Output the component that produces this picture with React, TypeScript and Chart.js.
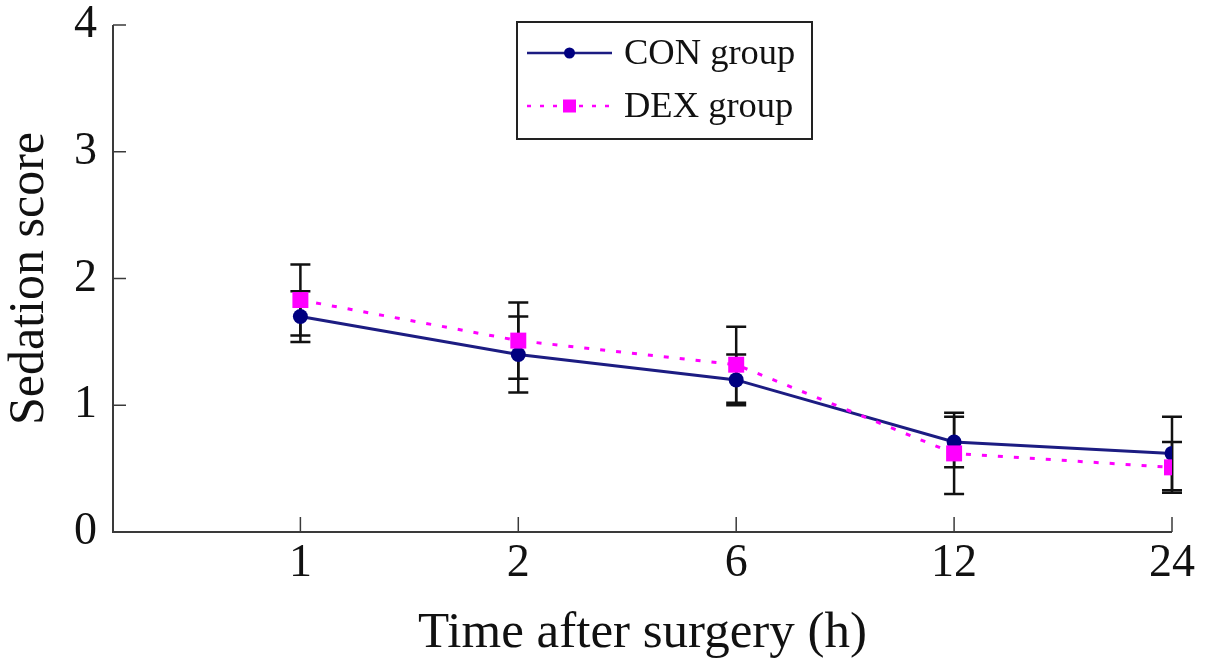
import React, { useEffect, useRef } from "react";
import { Chart, registerables } from "chart.js";

Chart.register(...registerables);

const categories = ["1", "2", "6", "12", "24"];
const conValues = [1.7, 1.4, 1.2, 0.71, 0.62];
const conErrors = [0.2, 0.3, 0.2, 0.2, 0.29];
const dexValues = [1.83, 1.51, 1.32, 0.62, 0.51];
const dexErrors = [0.28, 0.3, 0.3, 0.32, 0.2];
const yTicks = [0, 1, 2, 3, 4];
const seriesNames = ["CON group", "DEX group"];

const FONT = "'Liberation Serif', 'Times New Roman', serif";
const CON_COLOR = "#1c1c82";
const CON_POINT = "#000080";
const DEX_COLOR = "#ff00ff";
const AXIS_COLOR = "#3a3a3a";

const errorBarPlugin = {
  id: "errorBars",
  beforeDatasetsDraw(chart: any) {
    const { ctx, scales } = chart;
    const xs = scales.x;
    const ys = scales.y;
    const sets = [
      { v: conValues, e: conErrors },
      { v: dexValues, e: dexErrors },
    ];
    ctx.save();
    ctx.strokeStyle = "#111111";
    ctx.lineWidth = 2.5;
    sets.forEach((s) => {
      s.v.forEach((val, i) => {
        const x = xs.getPixelForValue(i);
        const yTop = ys.getPixelForValue(val + s.e[i]);
        const yBot = ys.getPixelForValue(val - s.e[i]);
        const half = 10;
        ctx.beginPath();
        ctx.moveTo(x, yTop);
        ctx.lineTo(x, yBot);
        ctx.moveTo(x - half, yTop);
        ctx.lineTo(x + half, yTop);
        ctx.moveTo(x - half, yBot);
        ctx.lineTo(x + half, yBot);
        ctx.stroke();
      });
    });
    ctx.restore();
  },
};

const axesPlugin = {
  id: "customAxes",
  afterDraw(chart: any) {
    const { ctx, chartArea, scales } = chart;
    const xs = scales.x;
    const ys = scales.y;
    ctx.save();
    ctx.strokeStyle = AXIS_COLOR;
    ctx.lineWidth = 2;
    ctx.beginPath();
    ctx.moveTo(chartArea.left, chartArea.top);
    ctx.lineTo(chartArea.left, chartArea.bottom);
    ctx.lineTo(chartArea.right, chartArea.bottom);
    ctx.stroke();
    ctx.lineWidth = 1.5;
    yTicks.forEach((t) => {
      if (t === 0) return;
      const y = ys.getPixelForValue(t);
      ctx.beginPath();
      ctx.moveTo(chartArea.left, y);
      ctx.lineTo(chartArea.left + 13, y);
      ctx.stroke();
    });
    categories.forEach((_, i) => {
      const x = xs.getPixelForValue(i);
      ctx.beginPath();
      ctx.moveTo(x, chartArea.bottom);
      ctx.lineTo(x, chartArea.bottom - 15);
      ctx.stroke();
    });
    ctx.restore();
  },
};

const legendPlugin = {
  id: "boxLegend",
  afterDraw(chart: any) {
    const { ctx, chartArea } = chart;
    const bx = chartArea.left + 404;
    const by = 22;
    const bw = 295;
    const bh = 117;
    ctx.save();
    ctx.fillStyle = "#ffffff";
    ctx.fillRect(bx, by, bw, bh);
    ctx.strokeStyle = "#222222";
    ctx.lineWidth = 2;
    ctx.strokeRect(bx, by, bw, bh);

    const lx0 = bx + 10;
    const lx1 = bx + 95;
    const mx = (lx0 + lx1) / 2;
    const rows = [by + 31, by + 84];

    ctx.strokeStyle = CON_COLOR;
    ctx.lineWidth = 2.5;
    ctx.setLineDash([]);
    ctx.beginPath();
    ctx.moveTo(lx0, rows[0]);
    ctx.lineTo(lx1, rows[0]);
    ctx.stroke();
    ctx.fillStyle = CON_POINT;
    ctx.beginPath();
    ctx.arc(mx, rows[0], 5.5, 0, Math.PI * 2);
    ctx.fill();

    ctx.strokeStyle = DEX_COLOR;
    ctx.lineWidth = 2.5;
    ctx.setLineDash([4, 9]);
    ctx.beginPath();
    ctx.moveTo(lx0, rows[1]);
    ctx.lineTo(lx1, rows[1]);
    ctx.stroke();
    ctx.setLineDash([]);
    ctx.fillStyle = DEX_COLOR;
    ctx.fillRect(mx - 6.5, rows[1] - 6.5, 13, 13);

    ctx.fillStyle = "#111111";
    ctx.font = `36.5px ${FONT}`;
    ctx.textBaseline = "middle";
    ctx.textAlign = "left";
    ctx.fillText(seriesNames[0], lx1 + 12, rows[0] + 1);
    ctx.fillText(seriesNames[1], lx1 + 12, rows[1] + 1);
    ctx.restore();
  },
};

export default function App() {
  const ref = useRef<HTMLCanvasElement | null>(null);

  useEffect(() => {
    if (!ref.current) return;
    const chart = new Chart(ref.current, {
      type: "line",
      data: {
        datasets: [
          {
            label: seriesNames[0],
            data: conValues.map((v, i) => ({ x: i, y: v })),
            borderColor: CON_COLOR,
            backgroundColor: CON_POINT,
            borderWidth: 3,
            pointStyle: "circle",
            pointRadius: 7.5,
            pointBackgroundColor: CON_POINT,
            pointBorderColor: CON_POINT,
            pointBorderWidth: 0,
            tension: 0,
            order: 2,
          },
          {
            label: seriesNames[1],
            data: dexValues.map((v, i) => ({ x: i, y: v })),
            borderColor: DEX_COLOR,
            backgroundColor: DEX_COLOR,
            borderWidth: 3,
            borderDash: [5, 11],
            pointStyle: "rect",
            pointRadius: 11.3,
            pointBackgroundColor: DEX_COLOR,
            pointBorderColor: DEX_COLOR,
            pointBorderWidth: 0,
            tension: 0,
            order: 1,
          },
        ],
      },
      options: {
        animation: false,
        responsive: true,
        maintainAspectRatio: false,
        layout: { padding: { top: 25, right: 33, left: 0, bottom: 0 } },
        plugins: {
          legend: { display: false },
          tooltip: { enabled: false },
        },
        scales: {
          x: {
            type: "linear",
            min: -0.86,
            max: 4,
            afterBuildTicks: (scale: any) => {
              scale.ticks = categories.map((_, i) => ({ value: i }));
            },
            afterFit: (scale: any) => {
              scale.height = 132;
              scale.paddingLeft = 0;
              scale.paddingRight = 0;
            },
            grid: { display: false, drawTicks: false },
            border: { display: false },
            ticks: {
              autoSkip: false,
              maxRotation: 0,
              padding: 4,
              color: "#111111",
              font: { family: FONT, size: 46 },
              callback: (v: any) => categories[Math.round(Number(v))] ?? "",
            },
            title: {
              display: true,
              text: "Time after surgery (h)",
              color: "#111111",
              font: { family: FONT, size: 51 },
              padding: { top: 0, bottom: 0 },
            },
          },
          y: {
            min: 0,
            max: 4,
            afterBuildTicks: (scale: any) => {
              scale.ticks = yTicks.map((t) => ({ value: t }));
            },
            afterFit: (scale: any) => {
              scale.width = 113;
              scale.paddingTop = 0;
              scale.paddingBottom = 0;
            },
            grid: { display: false, drawTicks: false },
            border: { display: false },
            ticks: {
              padding: 16,
              color: "#111111",
              font: { family: FONT, size: 46 },
              callback: (v: any) => String(v),
            },
            title: {
              display: true,
              text: "Sedation score",
              color: "#111111",
              font: { family: FONT, size: 50 },
              padding: { top: 0, bottom: 0 },
            },
          },
        },
      },
      plugins: [errorBarPlugin, axesPlugin, legendPlugin],
    });
    return () => chart.destroy();
  }, []);

  return (
    <div
      style={{
        position: "fixed",
        left: 0,
        top: 0,
        width: 1205,
        height: 664,
        background: "#ffffff",
      }}
    >
      <canvas ref={ref} />
    </div>
  );
}
